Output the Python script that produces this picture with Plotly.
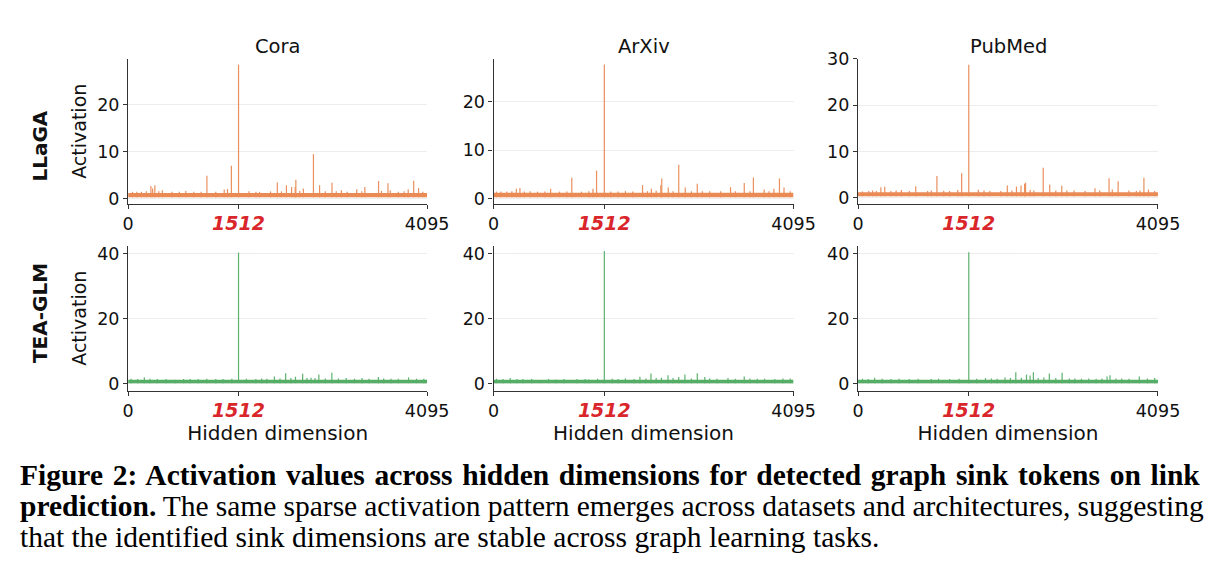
import plotly.graph_objects as go

W, H = 1222, 573

datasets = ["Cora", "ArXiv", "PubMed"]
models = ["LLaGA", "TEA-GLM"]
x_ticks = [0, 1512, 4095]
x_ticktext = ["0", "1512", "4095"]

# baseline band (min / max of the dense noise) per row
band_llaga = [0.35, 1.25]
band_tea = [0.25, 1.3]

# visible spikes: (hidden dim, activation)
llaga_cora_dims = [60, 120, 182, 250, 312, 335, 366, 420, 468, 600, 700, 790, 900, 1000, 1079, 1200, 1316,
                   1360, 1414, 1512, 1655, 1750, 1800, 1950, 2043, 2100, 2168, 2239, 2288, 2297, 2350,
                   2400, 2538, 2622, 2700, 2792, 2850, 2921, 3000, 3131, 3200, 3242, 3430, 3470, 3559,
                   3590, 3700, 3780, 3836, 3911, 3978, 4036]
llaga_cora_vals = [1.5, 1.5, 1.5, 1.6, 2.75, 2.2, 2.9, 1.6, 1.85, 1.5, 1.5, 1.7, 1.5, 1.5, 4.9, 1.5, 2.0,
                   2.1, 7.0, 28.45, 1.65, 1.5, 1.5, 1.6, 3.5, 1.6, 2.9, 2.5, 2.5, 4.05, 1.7,
                   2.2, 9.5, 2.9, 1.6, 3.4, 1.6, 1.85, 1.5, 2.05, 1.6, 2.5, 3.8, 1.7, 3.3,
                   1.85, 1.5, 1.6, 2.05, 3.85, 2.3, 1.5]

llaga_arxiv_dims = [40, 100, 182, 250, 311, 360, 420, 500, 600, 700, 779, 900, 1000, 1068, 1200, 1300, 1357,
                    1406, 1512, 1600, 1700, 1800, 1900, 2034, 2100, 2154, 2220, 2283, 2296, 2385, 2450,
                    2528, 2617, 2700, 2781, 2850, 2950, 3100, 3235, 3300, 3422, 3500, 3547, 3694, 3760,
                    3827, 3903, 3965, 4050]
llaga_arxiv_vals = [1.5, 1.5, 1.5, 1.6, 2.1, 2.25, 1.5, 1.6, 1.5, 1.5, 2.1, 1.5, 1.5, 4.35, 1.5, 1.6, 2.1,
                    5.8, 27.6, 1.5, 1.5, 1.6, 1.5, 2.85, 1.6, 2.1, 1.7, 2.8, 4.2, 2.35, 1.6,
                    7.0, 2.35, 1.6, 3.1, 1.6, 1.6, 1.6, 2.4, 1.6, 3.25, 1.6, 4.4, 1.95, 1.6,
                    2.1, 4.2, 2.35, 1.6]

llaga_pubmed_dims = [60, 147, 200, 250, 312, 365, 450, 520, 592, 700, 788, 950, 1000, 1077, 1170, 1250,
                     1362, 1415, 1512, 1642, 1720, 1800, 1950, 2038, 2100, 2163, 2225, 2274, 2287, 2350,
                     2400, 2528, 2617, 2700, 2781, 2850, 2950, 3100, 3235, 3300, 3427, 3471, 3551, 3698,
                     3800, 3850, 3903, 3965, 4050]
llaga_pubmed_vals = [1.4, 1.5, 1.6, 1.5, 2.3, 2.4, 1.5, 1.6, 1.7, 1.5, 2.5, 1.5, 1.6, 4.7, 1.55, 1.5,
                     1.7, 5.3, 28.7, 1.75, 1.6, 1.5, 1.5, 2.7, 1.6, 2.45, 2.7, 3.05, 3.3, 1.7,
                     1.6, 6.5, 2.9, 1.6, 2.65, 1.6, 1.6, 1.5, 2.1, 1.6, 4.25, 1.8, 3.6, 1.6,
                     1.5, 1.6, 4.35, 1.8, 1.5]

tea_cora_dims = [40, 130, 222, 300, 400, 520, 645, 760, 850, 960, 1077, 1200, 1300, 1420, 1512, 1620,
                 1749, 1830, 1900, 2003, 2080, 2158, 2230, 2292, 2390, 2450, 2505, 2560, 2612, 2700,
                 2790, 2880, 2986, 3100, 3204, 3300, 3427, 3500, 3600, 3700, 3841, 3950, 4050]
tea_cora_vals = [1.6, 1.5, 2.0, 1.6, 1.5, 1.5, 1.3, 1.5, 1.5, 1.5, 1.6, 1.5, 1.5, 1.6, 40.3, 1.6,
                 1.5, 1.7, 1.6, 2.3, 1.7, 3.3, 1.8, 2.2, 3.1, 1.8, 1.9, 1.8, 2.9, 1.7,
                 3.4, 1.7, 1.8, 1.6, 1.8, 1.6, 2.1, 1.7, 1.6, 1.6, 2.0, 1.6, 1.6]

tea_arxiv_dims = [40, 130, 227, 320, 400, 520, 627, 750, 850, 960, 1139, 1250, 1300, 1420, 1512, 1620,
                  1700, 1800, 1918, 1998, 2080, 2149, 2220, 2292, 2381, 2450, 2528, 2612, 2700, 2781,
                  2884, 2950, 3050, 3200, 3300, 3422, 3500, 3600, 3700, 3840, 3950, 4050]
tea_arxiv_vals = [1.6, 1.5, 1.8, 1.5, 1.5, 1.5, 1.2, 1.5, 1.4, 1.5, 1.5, 1.5, 1.4, 1.6, 40.8, 1.6,
                  1.5, 1.7, 1.5, 2.2, 1.7, 3.2, 1.8, 1.9, 2.7, 1.8, 2.1, 2.9, 1.7, 3.3,
                  2.1, 1.7, 1.6, 1.8, 1.6, 2.3, 1.7, 1.6, 1.6, 1.5, 1.7, 1.7]

tea_pubmed_dims = [60, 140, 227, 330, 450, 560, 700, 820, 1000, 1100, 1250, 1380, 1512, 1620, 1740,
                   1820, 1900, 2007, 2080, 2154, 2230, 2300, 2349, 2394, 2460, 2537, 2612, 2700, 2786,
                   2884, 2960, 3050, 3150, 3250, 3330, 3400, 3440, 3520, 3600, 3700, 3840, 3950, 4050]
tea_pubmed_vals = [1.6, 1.5, 1.9, 1.6, 1.5, 1.6, 1.5, 1.6, 1.5, 1.6, 1.5, 1.6, 40.4, 1.6, 1.8,
                   1.7, 1.6, 2.0, 1.8, 3.6, 1.9, 2.9, 2.6, 3.6, 1.8, 2.0, 3.2, 1.8, 3.4,
                   1.7, 1.7, 1.6, 1.7, 1.6, 1.7, 2.3, 2.7, 1.7, 1.7, 1.6, 2.3, 1.7, 1.8]

panels = [
    [(llaga_cora_dims, llaga_cora_vals), (llaga_arxiv_dims, llaga_arxiv_vals), (llaga_pubmed_dims, llaga_pubmed_vals)],
    [(tea_cora_dims, tea_cora_vals), (tea_arxiv_dims, tea_arxiv_vals), (tea_pubmed_dims, tea_pubmed_vals)],
]
bands = [band_llaga, band_tea]
row_colors = ["#EA8A55", "#55AE66"]
y_ranges = [[[-1.03, 29.7], [-1.0, 28.8], [-1.26, 30.0]],
            [[-2.09, 42.4], [-2.09, 42.4], [-2.09, 42.4]]]
y_dticks = [10, 20]

# pixel layout -> paper domains
col_px = [(125, 431), (499, 806), (872, 1179)]
row_px = [(50, 199), (242, 391)]

def px_x(p):
    return p / W

def px_y(p):
    return 1 - p / H

fig = go.Figure()
layout = dict(width=W, height=H, margin=dict(l=0, r=0, t=0, b=0),
              paper_bgcolor="white", plot_bgcolor="white", showlegend=False)

ticktext_styled = [x_ticktext[0],
                   "<span style='color:#D9262B;font-size:19px'><b><i>" + x_ticktext[1] + "</i></b></span>",
                   x_ticktext[2]]

TICK_FONT = dict(family="DejaVu Sans", size=17.5, color="#111")

idx = 0
for r in range(2):
    for c in range(3):
        idx += 1
        xa = "x" if idx == 1 else f"x{idx}"
        ya = "y" if idx == 1 else f"y{idx}"
        dims, vals = panels[r][c]
        lo, hi = bands[r]
        color = row_colors[r]
        fig.add_trace(go.Scatter(x=[x_ticks[0], x_ticks[-1], x_ticks[-1], x_ticks[0], x_ticks[0]],
                                 y=[lo, lo, hi, hi, lo], fill="toself", fillcolor=color,
                                 line=dict(width=0), mode="lines", xaxis=xa, yaxis=ya,
                                 hoverinfo="skip"))
        xs, ys = [], []
        for d, v in zip(dims, vals):
            xs += [d, d, None]
            ys += [lo, v, None]
        fig.add_trace(go.Scatter(x=xs, y=ys, mode="lines", line=dict(color=color, width=1.2),
                                 xaxis=xa, yaxis=ya, opacity=0.95))
        x0, x1 = col_px[c]
        y0, y1 = row_px[r]
        xkey = "xaxis" if idx == 1 else f"xaxis{idx}"
        ykey = "yaxis" if idx == 1 else f"yaxis{idx}"
        layout[xkey] = dict(domain=[px_x(x0), px_x(x1)], anchor=ya, range=[0, 4095],
                            tickvals=x_ticks, ticktext=ticktext_styled, showgrid=False,
                            zeroline=False, showline=True, linecolor="#333", linewidth=1.3,
                            ticks="outside", ticklen=4, tickcolor="#333", tickfont=TICK_FONT)
        layout[ykey] = dict(domain=[px_y(y1), px_y(y0)], anchor=xa, range=y_ranges[r][c],
                            dtick=y_dticks[r], tick0=0, showgrid=True, gridcolor="#EDEDED",
                            gridwidth=1, zeroline=False, showline=True, linecolor="#333",
                            linewidth=1.3, ticks="outside", ticklen=4, tickcolor="#333",
                            tickfont=TICK_FONT)
        if c == 0:
            layout[ykey]["title"] = dict(text="Activation", standoff=5,
                                         font=dict(family="DejaVu Sans", size=19, color="#111"))
        if r == 1:
            layout[xkey]["title"] = dict(text="Hidden dimension", standoff=0,
                                         font=dict(family="DejaVu Sans", size=20, color="#111"))

annotations = []
for c, name in enumerate(datasets):
    x0, x1 = col_px[c]
    annotations.append(dict(text=name, x=px_x((x0 + x1) / 2), y=px_y(37), xref="paper", yref="paper",
                            showarrow=False, xanchor="center", yanchor="middle",
                            font=dict(family="DejaVu Sans", size=19.5, color="#111")))
for r, name in enumerate(models):
    yc = [140, 311][r]
    annotations.append(dict(text="<b>" + name + "</b>", x=px_x(35), y=px_y(yc), xref="paper", yref="paper",
                            showarrow=False, xanchor="center", yanchor="middle", textangle=-90,
                            font=dict(family="DejaVu Sans", size=20, color="#111")))

caption_lines = [
    "<b>Figure 2: Activation values across hidden dimensions for detected graph sink tokens on link</b>",
    "<b>prediction.</b> The same sparse activation pattern emerges across datasets and architectures, suggesting",
    "that the identified sink dimensions are stable across graph learning tasks.",
]
caption_word_spacing = ["2.3px", "-0.3px", "0px"]
for i, line in enumerate(caption_lines):
    annotations.append(dict(text="<span style='word-spacing:" + caption_word_spacing[i] + "'>" + line + "</span>",
                            x=px_x(13), y=px_y(478 + 31.5 * i), xref="paper", yref="paper",
                            showarrow=False, xanchor="left", yanchor="middle", borderpad=0,
                            font=dict(family="Liberation Serif", size=29.5, color="#000")))

layout["annotations"] = annotations
fig.update_layout(**layout)
fig.write_html("out.html")
